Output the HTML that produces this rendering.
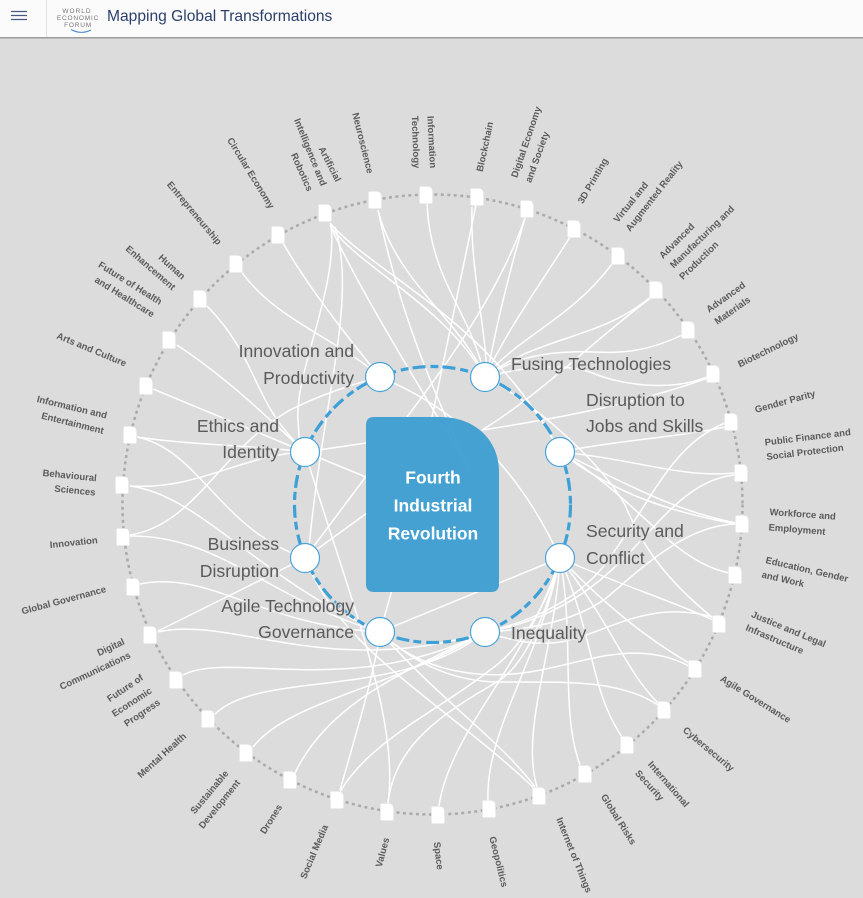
<!DOCTYPE html>
<html><head><meta charset="utf-8"><style>
html,body{margin:0;padding:0;background:#dcdcdc;width:863px;height:898px;overflow:hidden}
svg{display:block;font-family:"Liberation Sans",sans-serif}
.l path{fill:none;stroke:#fff;stroke-width:1.5}
.o text{font-size:9.500px;font-weight:bold;fill:#5a5a5a;text-anchor:middle}
.i text{font-size:17.600px;fill:#5a5a5a;paint-order:stroke;stroke:#dcdcdc;stroke-opacity:.7;stroke-width:3px}
.i .r{text-anchor:end}
</style></head><body>
<svg width="863" height="898" viewBox="0 0 863 898">
<defs><path id="n" d="M-5.500 -8.500H1.500Q6.500 -8.500 6.500 -2.500V7.500Q6.500 8.500 5.500 8.500H-5.500Q-6.500 8.500 -6.500 7.500V-7.500Q-6.500 -8.500 -5.500 -8.500Z" fill="#fff" stroke="#e9e9e9" stroke-width=".6"/></defs>
<rect width="863" height="898" fill="#dcdcdc"/>
<rect width="863" height="37" fill="#fbfbfb"/>
<rect y="37" width="863" height="1.500" fill="#9c9c9c"/>
<rect x="46" width="1" height="37" fill="#e4e4e4"/>
<path d="M11 11.500H27M11 15.500H27M11 19.500H27" stroke="#465a86" stroke-width="1.200"/>
<g font-size="6.500" fill="#777" text-anchor="middle"><text x="77" y="13" letter-spacing="1">WORLD</text><text x="78" y="20" letter-spacing=".8">ECONOMIC</text><text x="78" y="27" letter-spacing=".8">FORUM</text></g>
<path d="M71 29.500Q81 35 91 30" fill="none" stroke="#4a86c5" stroke-width="1"/>
<text x="107" y="21" font-size="15.600" fill="#2c3f6b">Mapping Global Transformations</text>

<g class="l">
<path d="M330 225C355 265 445 305 485 377"/><path d="M330 223C375 275 490 320 560 452"/><path d="M330 225C350 270 390 340 470 470"/>
<path d="M331 225C338 290 295 370 298 420S300 440 305 452"/><path d="M335 227C358 300 322 400 308 558"/>
<path d="M283 243C310 290 350 340 380 377"/><path d="M241 271C275 320 340 340 380 377"/>
<path d="M378 210C395 290 420 365 470 470"/><path d="M378 210C395 280 460 320 485 377"/><path d="M427 203C430 280 470 310 485 377"/>
<path d="M476 205L432 417"/><path d="M472 207C470 270 485 320 487 377"/><path d="M525 218C500 290 450 360 407 417"/><path d="M525 218C510 270 495 330 487 377"/>
<path d="M570 237C540 285 510 325 485 377"/><path d="M612 264C570 320 520 335 485 377"/><path d="M652 296C600 340 540 335 485 377"/><path d="M652 297C600 335 540 395 482 430"/>
<path d="M682 335C630 360 600 350 570 352C540 353 510 360 485 377"/><path d="M707 377C670 392 620 385 590 372C560 362 520 368 485 377"/><path d="M708 378C660 395 600 412 482 430"/>
<path d="M725 427C680 437 620 440 560 452"/><path d="M725 423C670 445 650 505 603 567C580 595 540 620 485 632"/>
<path d="M735 473C680 478 640 460 560 452"/><path d="M735 475C680 480 650 540 600 580C570 605 530 625 485 632"/>
<path d="M736 523C670 510 620 480 560 452"/><path d="M736 524C660 510 610 490 560 452"/><path d="M736 524C690 525 650 560 610 595C580 620 530 630 485 632"/>
<path d="M729 573C670 560 640 500 560 452"/><path d="M713 620C670 600 620 585 560 558"/><path d="M713 618C660 575 640 540 625 505C600 460 530 400 485 377"/>
<path d="M713 617C650 600 610 630 570 640C540 648 510 640 485 632"/>
<path d="M689 666C640 640 590 660 550 668C500 680 430 680 380 632"/><path d="M689 663C650 640 610 610 560 558"/>
<path d="M658 705C620 680 570 682 500 682C450 682 410 660 380 632"/><path d="M658 703C625 670 615 630 560 558"/>
<path d="M622 737C590 690 595 640 560 558"/><path d="M580 765C560 710 575 640 560 558"/><path d="M537 787C520 730 555 650 560 558"/>
<path d="M488 801C485 730 540 660 560 558"/><path d="M439 806C450 730 530 660 560 558"/>
<path d="M388 803C395 740 450 710 500 680C530 660 550 600 560 558"/><path d="M340 792C370 740 440 710 490 670C520 650 550 600 560 558"/>
<path d="M340 790C360 720 375 670 380 632"/><path d="M388 803C400 720 350 600 305 452"/>
<path d="M535 787C500 740 440 700 380 632"/><path d="M305 558C340 650 440 700 533 787"/><path d="M380 632L560 558"/>
<path d="M295 773C330 700 410 670 485 632"/><path d="M253 747C290 700 390 690 485 632"/><path d="M215 714C260 670 400 700 485 632"/>
<path d="M183 675C230 650 350 700 485 632"/><path d="M158 632C230 615 330 680 485 632"/><path d="M158 631L305 558"/>
<path d="M140 584C210 570 260 625 380 632"/><path d="M130 535C195 525 220 450 290 410C320 395 350 385 380 377"/><path d="M130 536C220 535 270 600 380 632"/>
<path d="M130 486C200 490 240 455 305 452"/><path d="M130 486C200 495 260 580 380 632"/><path d="M137 437C190 445 250 445 305 452"/><path d="M137 437C200 450 220 530 305 558"/>
<path d="M153 389L305 452"/><path d="M177 345C230 380 270 420 305 452"/><path d="M207 306C260 360 250 400 305 452"/>
<path d="M305 452L366 443"/><path d="M305 452L366 477"/><path d="M305 558L367 475"/><path d="M305 558L367 513"/><path d="M380 632L392 590"/><path d="M380 377C460 410 520 470 560 558"/>
</g>

<circle cx="432.500" cy="504.500" r="310" fill="none" stroke="#aaa" stroke-width="2.500" stroke-dasharray="3 3.500"/>
<path d="M374 417H440C475 417 499 440 499 472V584Q499 592 491 592H374Q366 592 366 584V425Q366 417 374 417Z" fill="#409fd2" fill-opacity=".97"/>
<g fill="#fff" font-size="17.500" font-weight="bold" text-anchor="middle"><text x="433" y="483.500">Fourth</text><text x="433" y="511.500">Industrial</text><text x="433" y="539.500">Revolution</text></g>
<circle cx="432.500" cy="504.500" r="138" fill="none" stroke="#3ea0d6" stroke-width="3.200" stroke-dasharray="13 5 8 4"/>
<g fill="#fff" stroke="#4aa3d8" stroke-width="1.200">
<circle cx="380" cy="377" r="14.500"/><circle cx="485" cy="377" r="14.500"/><circle cx="560" cy="452" r="14.500"/><circle cx="560" cy="558" r="14.500"/><circle cx="485" cy="632" r="14.500"/><circle cx="380" cy="632" r="14.500"/><circle cx="305" cy="558" r="14.500"/><circle cx="305" cy="452" r="14.500"/>
</g>

<use href="#n" x="278" y="235"/><use href="#n" x="325" y="213"/><use href="#n" x="375" y="200"/><use href="#n" x="426" y="195"/><use href="#n" x="477" y="197"/><use href="#n" x="527" y="209"/><use href="#n" x="574" y="229"/><use href="#n" x="618" y="256"/><use href="#n" x="656" y="290"/><use href="#n" x="688" y="330"/><use href="#n" x="713" y="374"/><use href="#n" x="731" y="422"/><use href="#n" x="741" y="473"/><use href="#n" x="742" y="524"/><use href="#n" x="735" y="575"/><use href="#n" x="719" y="624"/><use href="#n" x="695" y="669"/><use href="#n" x="664" y="710"/><use href="#n" x="627" y="745"/><use href="#n" x="585" y="774"/><use href="#n" x="539" y="796"/><use href="#n" x="489" y="809"/><use href="#n" x="438" y="815"/><use href="#n" x="387" y="812"/><use href="#n" x="337" y="800"/><use href="#n" x="290" y="780"/><use href="#n" x="246" y="753"/><use href="#n" x="208" y="719"/><use href="#n" x="176" y="680"/><use href="#n" x="150" y="635"/><use href="#n" x="133" y="587"/><use href="#n" x="123" y="537"/><use href="#n" x="122" y="485"/><use href="#n" x="130" y="435"/><use href="#n" x="146" y="386"/><use href="#n" x="169" y="340"/><use href="#n" x="200" y="299"/><use href="#n" x="236" y="264"/>

<g class="i">
<text class="r" x="354" y="357">Innovation and</text><text class="r" x="354" y="384">Productivity</text>
<text x="511" y="370">Fusing Technologies</text>
<text x="586" y="406">Disruption to</text><text x="586" y="432">Jobs and Skills</text>
<text x="586" y="537">Security and</text><text x="586" y="564">Conflict</text>
<text x="511" y="639">Inequality</text>
<text class="r" x="354" y="612">Agile Technology</text><text class="r" x="354" y="638">Governance</text>
<text class="r" x="279" y="550">Business</text><text class="r" x="279" y="577">Disruption</text>
<text class="r" x="279" y="432">Ethics and</text><text class="r" x="279" y="458">Identity</text>
</g>

<g class="o">
<text dy=".35em" transform="translate(194.500 213) rotate(50)">Entrepreneurship</text>
<text dy=".35em" transform="translate(251 173) rotate(58.500)">Circular Economy</text>
<text dy=".35em" transform="translate(330 164) rotate(63)">Artificial</text>
<text dy=".35em" transform="translate(310.500 152) rotate(68)">Intelligence and</text>
<text dy=".35em" transform="translate(302 172) rotate(66)">Robotics</text>
<text dy=".35em" transform="translate(363 143) rotate(76)">Neuroscience</text>
<text dy=".35em" transform="translate(432 142) rotate(87)">Information</text>
<text dy=".35em" transform="translate(416 142) rotate(88)">Technology</text>
<text dy=".35em" transform="translate(484.700 146.700) rotate(-78)">Blockchain</text>
<text dy=".35em" transform="translate(526 142) rotate(-71)">Digital Economy</text>
<text dy=".35em" transform="translate(537 157) rotate(-70)">and Society</text>
<text dy=".35em" transform="translate(592.700 180.700) rotate(-60)">3D Printing</text>
<text dy=".35em" transform="translate(630.700 202) rotate(-51)">Virtual and</text>
<text dy=".35em" transform="translate(654 196) rotate(-52)">Augmented Reality</text>
<text dy=".35em" transform="translate(676.700 240.700) rotate(-45)">Advanced</text>
<text dy=".35em" transform="translate(702 236.700) rotate(-44)">Manufacturing and</text>
<text dy=".35em" transform="translate(698.700 260.300) rotate(-44)">Production</text>
<text dy=".35em" transform="translate(725.700 297) rotate(-35.500)">Advanced</text>
<text dy=".35em" transform="translate(732.300 310.300) rotate(-35)">Materials</text>
<text dy=".35em" transform="translate(768 350) rotate(-26)">Biotechnology</text>
<text dy=".35em" transform="translate(785 401.300) rotate(-15.500)">Gender Parity</text>
<text dy=".35em" transform="translate(807.700 437) rotate(-7)">Public Finance and</text>
<text dy=".35em" transform="translate(805 452) rotate(-7)">Social Protection</text>
<text dy=".35em" transform="translate(802.700 514) rotate(4)">Workforce and</text>
<text dy=".35em" transform="translate(797 529.300) rotate(4.500)">Employment</text>
<text dy=".35em" transform="translate(807 569.300) rotate(13)">Education, Gender</text>
<text dy=".35em" transform="translate(783 579) rotate(13)">and Work</text>
<text dy=".35em" transform="translate(788.700 629) rotate(22.600)">Justice and Legal</text>
<text dy=".35em" transform="translate(774.700 639) rotate(23)">Infrastructure</text>
<text dy=".35em" transform="translate(755.700 699) rotate(32)">Agile Governance</text>
<text dy=".35em" transform="translate(708.700 749) rotate(40)">Cybersecurity</text>
<text dy=".35em" transform="translate(668.700 784) rotate(49)">International</text>
<text dy=".35em" transform="translate(649.700 785.300) rotate(48)">Security</text>
<text dy=".35em" transform="translate(618.700 819.300) rotate(58)">Global Risks</text>
<text dy=".35em" transform="translate(574.300 855) rotate(68)">Internet of Things</text>
<text dy=".35em" transform="translate(498.700 861.700) rotate(76)">Geopolitics</text>
<text dy=".35em" transform="translate(438.700 855.700) rotate(83)">Space</text>
<text dy=".35em" transform="translate(382.300 852.300) rotate(-75)">Values</text>
<text dy=".35em" transform="translate(314 851.700) rotate(-67)">Social Media</text>
<text dy=".35em" transform="translate(271 819) rotate(-58)">Drones</text>
<text dy=".35em" transform="translate(209.300 792) rotate(-50)">Sustainable</text>
<text dy=".35em" transform="translate(219.300 804) rotate(-51)">Development</text>
<text dy=".35em" transform="translate(161.700 755.300) rotate(-42)">Mental Health</text>
<text dy=".35em" transform="translate(125 688) rotate(-34)">Future of</text>
<text dy=".35em" transform="translate(131.700 702) rotate(-33)">Economic</text>
<text dy=".35em" transform="translate(142 712.700) rotate(-34)">Progress</text>
<text dy=".35em" transform="translate(110.700 647) rotate(-25)">Digital</text>
<text dy=".35em" transform="translate(95 670.700) rotate(-25)">Communications</text>
<text dy=".35em" transform="translate(63.700 600) rotate(-15)">Global Governance</text>
<text dy=".35em" transform="translate(73.700 542.300) rotate(-6)">Innovation</text>
<text dy=".35em" transform="translate(69.700 475.300) rotate(5.600)">Behavioural</text>
<text dy=".35em" transform="translate(75 490.300) rotate(5.500)">Sciences</text>
<text dy=".35em" transform="translate(72 407) rotate(13.500)">Information and</text>
<text dy=".35em" transform="translate(72.700 423) rotate(14)">Entertainment</text>
<text dy=".35em" transform="translate(91.700 349.300) rotate(22.500)">Arts and Culture</text>
<text dy=".35em" transform="translate(130.300 283) rotate(32)">Future of Health</text>
<text dy=".35em" transform="translate(124.700 296.700) rotate(32)">and Healthcare</text>
<text dy=".35em" transform="translate(172 266.700) rotate(42)">Human</text>
<text dy=".35em" transform="translate(150.700 267.700) rotate(41)">Enhancement</text>
</g>
</svg>
</body></html>
